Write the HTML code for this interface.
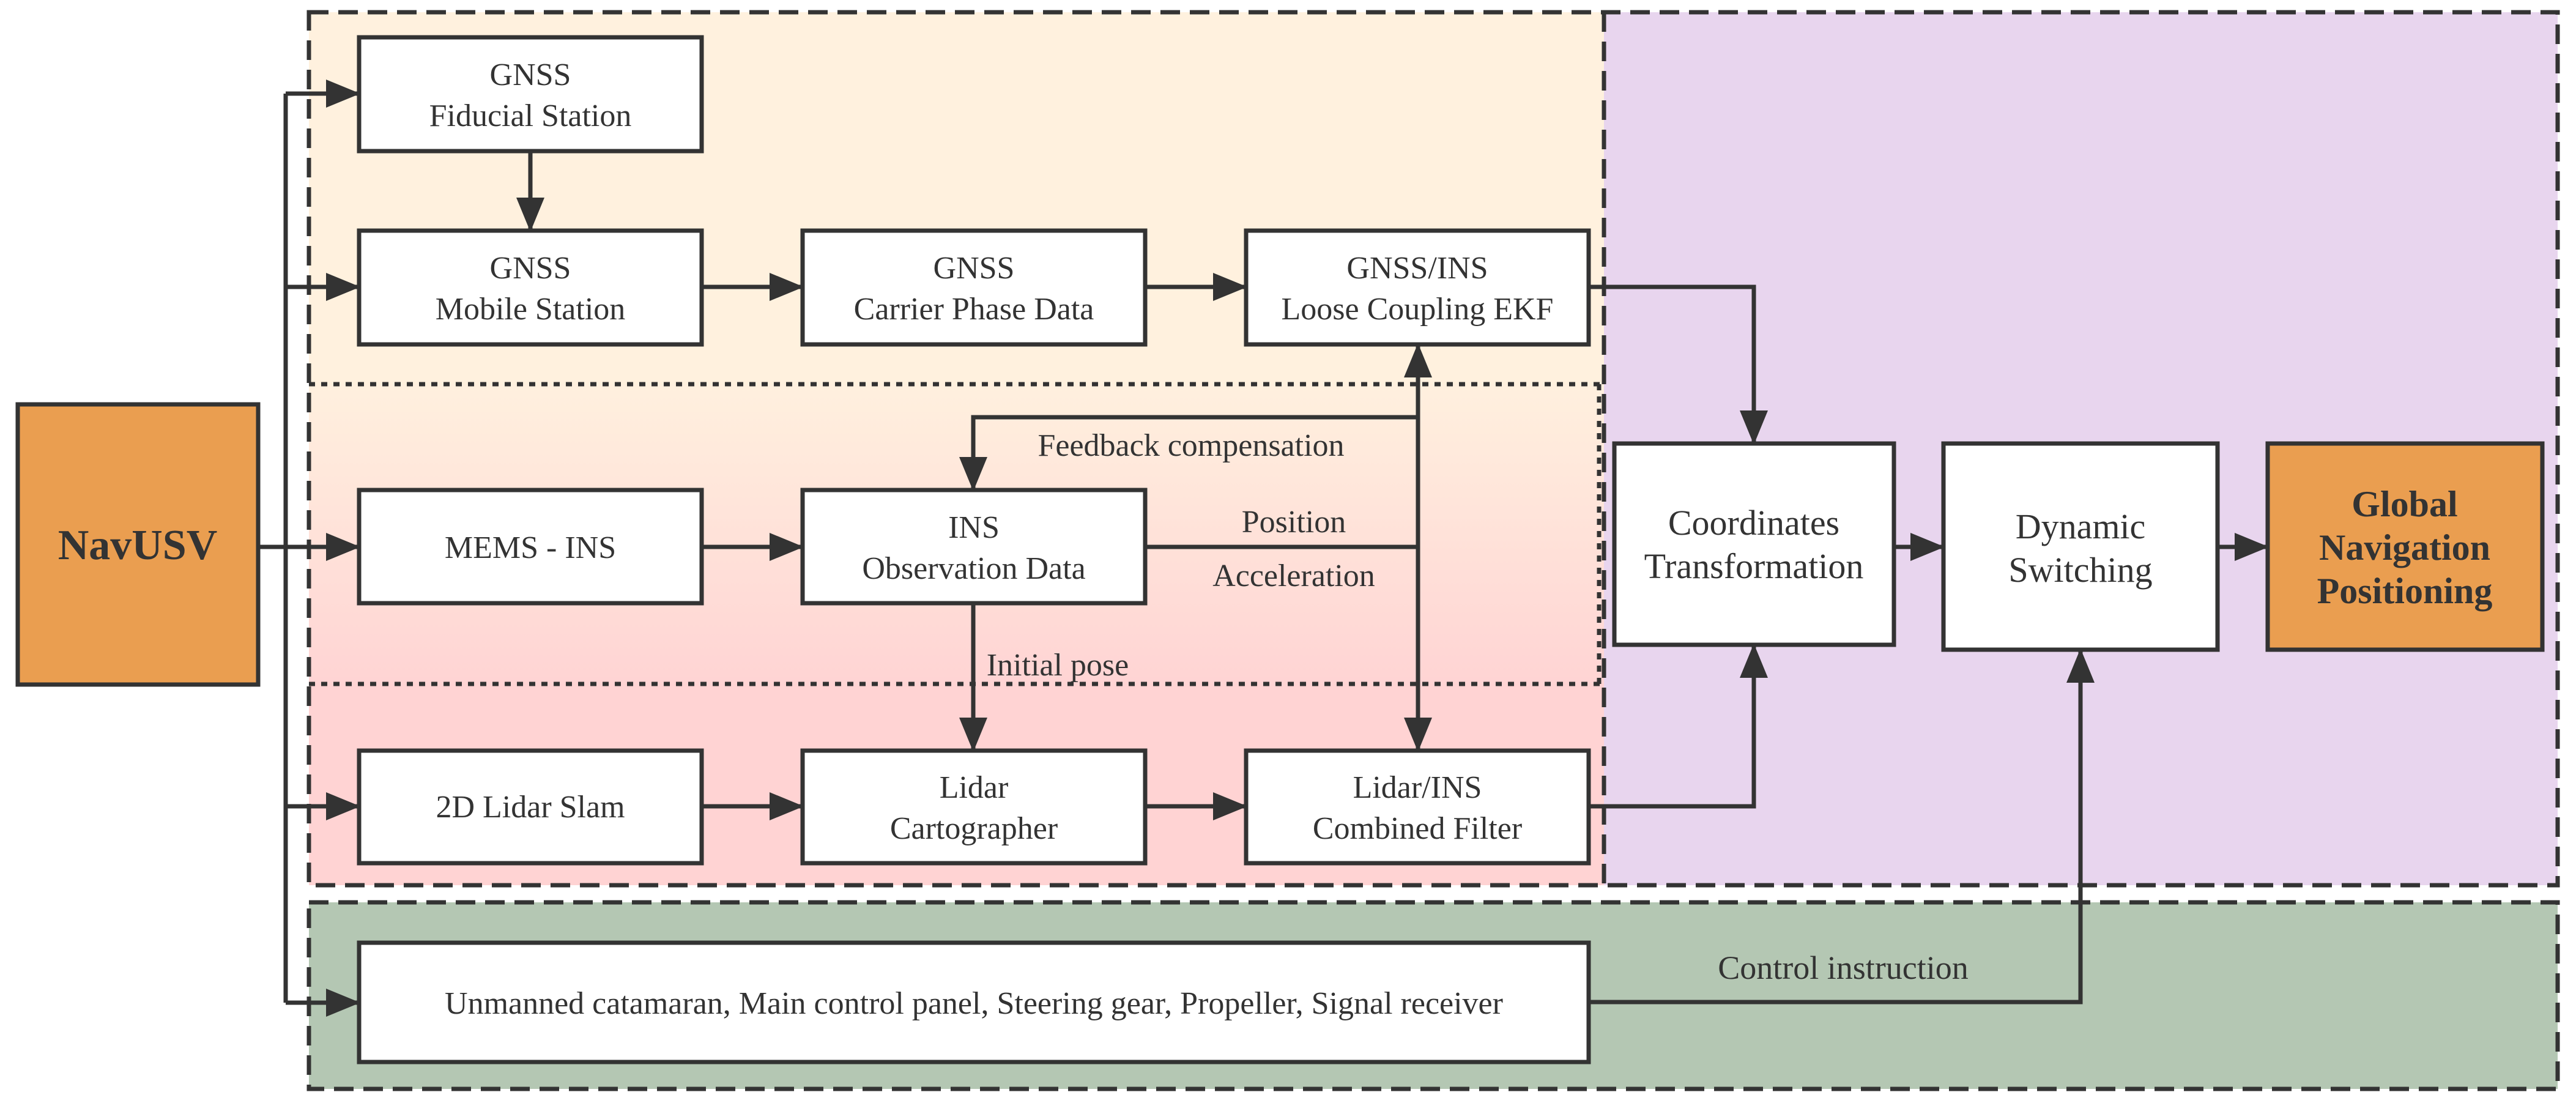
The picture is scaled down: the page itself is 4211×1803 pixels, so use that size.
<!DOCTYPE html>
<html><head><meta charset="utf-8"><style>html,body{margin:0;padding:0;background:#fff}svg{display:block}svg text{font-family:"Liberation Serif","Times New Roman","DejaVu Serif",serif}</style></head>
<body>
<svg width="4211" height="1803" viewBox="0 0 4211 1803" xmlns="http://www.w3.org/2000/svg">
<defs>
<linearGradient id="mid" x1="0" y1="0" x2="0" y2="1">
<stop offset="0" stop-color="#FFF0DE"/><stop offset="1" stop-color="#FFD4D4"/>
</linearGradient>
<marker id="a" markerUnits="userSpaceOnUse" markerWidth="56" markerHeight="46" refX="52" refY="23" orient="auto">
<path d="M0,0 L56,23 L0,46 Z" fill="#333"/>
</marker>
</defs>
<rect x="505" y="20" width="2117" height="608" fill="#FFF1DE"/>
<rect x="505" y="628" width="2117" height="490" fill="url(#mid)"/>
<rect x="505" y="1118" width="2117" height="329" fill="#FFD3D3"/>
<rect x="2622" y="20" width="1559" height="1427" fill="#E8D5EE"/>
<rect x="505" y="1475" width="3676" height="305" fill="#B4C7B3"/>
<g fill="none" stroke="#333" stroke-width="7" stroke-dasharray="32,16">
<rect x="505" y="20" width="3676" height="1427"/>
<line x1="2622" y1="20" x2="2622" y2="1447"/>
<rect x="505" y="1475" width="3676" height="305"/>
</g>
<g stroke="#333" stroke-width="7" stroke-dasharray="10,10">
<line x1="505" y1="628" x2="2618" y2="628"/>
<line x1="505" y1="1118" x2="2618" y2="1118"/>
<line x1="2614" y1="628" x2="2614" y2="1118"/>
</g>
<g fill="none" stroke="#333" stroke-width="7">
<path d="M422,894 H467"/>
<path d="M467,153 V1639"/>
<path d="M467,153 H585" marker-end="url(#a)"/>
<path d="M467,469 H585" marker-end="url(#a)"/>
<path d="M422,894 H585" marker-end="url(#a)"/>
<path d="M467,1318 H585" marker-end="url(#a)"/>
<path d="M467,1639 H585" marker-end="url(#a)"/>
<path d="M867,247 V375" marker-end="url(#a)"/>
<path d="M1147,469 H1310" marker-end="url(#a)"/>
<path d="M1872,469 H2035" marker-end="url(#a)"/>
<path d="M1147,894 H1310" marker-end="url(#a)"/>
<path d="M1147,1318 H1310" marker-end="url(#a)"/>
<path d="M1872,1318 H2035" marker-end="url(#a)"/>
<path d="M2318,894 V565" marker-end="url(#a)"/>
<path d="M2318,894 V1225" marker-end="url(#a)"/>
<path d="M1872,894 H2318"/>
<path d="M2318,682 H1591 V799" marker-end="url(#a)"/>
<path d="M1591,986 V1225" marker-end="url(#a)"/>
<path d="M2597,469 H2867 V723" marker-end="url(#a)"/>
<path d="M2597,1318 H2867 V1056" marker-end="url(#a)"/>
<path d="M3096,894 H3175" marker-end="url(#a)"/>
<path d="M3625,894 H3705" marker-end="url(#a)"/>
<path d="M2597,1638 H3401 V1064" marker-end="url(#a)"/>
</g>
<g stroke="#333" stroke-width="7" fill="#fff">
<rect x="29" y="661" width="393" height="458" fill="#EA9E50"/>
<rect x="587" y="61" width="560" height="186"/>
<rect x="587" y="377" width="560" height="186"/>
<rect x="1312" y="377" width="560" height="186"/>
<rect x="2037" y="377" width="560" height="186"/>
<rect x="587" y="801" width="560" height="185"/>
<rect x="1312" y="801" width="560" height="185"/>
<rect x="587" y="1227" width="560" height="184"/>
<rect x="1312" y="1227" width="560" height="184"/>
<rect x="2037" y="1227" width="560" height="184"/>
<rect x="587" y="1541" width="2010" height="195"/>
<rect x="2639" y="725" width="457" height="329"/>
<rect x="3177" y="725" width="448" height="337"/>
<rect x="3707" y="725" width="449" height="337" fill="#EA9E50"/>
</g>
<g fill="#333" font-size="52" text-anchor="middle">
<text x="225" y="914" font-size="70" font-weight="bold">NavUSV</text>
<text x="867" y="139">GNSS</text><text x="867" y="206">Fiducial Station</text>
<text x="867" y="455">GNSS</text><text x="867" y="522">Mobile Station</text>
<text x="1592" y="455">GNSS</text><text x="1592" y="522">Carrier Phase Data</text>
<text x="2317" y="455">GNSS/INS</text><text x="2317" y="522">Loose Coupling EKF</text>
<text x="867" y="912">MEMS - INS</text>
<text x="1592" y="879">INS</text><text x="1592" y="946">Observation Data</text>
<text x="867" y="1336">2D Lidar Slam</text>
<text x="1592" y="1304">Lidar</text><text x="1592" y="1371">Cartographer</text>
<text x="2317" y="1304">Lidar/INS</text><text x="2317" y="1371">Combined Filter</text>
<text x="1592" y="1657">Unmanned catamaran, Main control panel, Steering gear, Propeller, Signal receiver</text>
<text x="1947" y="745">Feedback compensation</text>
<text x="2115" y="870">Position</text>
<text x="2115" y="958">Acceleration</text>
<text x="1729" y="1104">Initial pose</text>
<text x="3013" y="1600" font-size="54">Control instruction</text>
<text x="2867" y="874" font-size="58">Coordinates</text><text x="2867" y="945" font-size="58">Transformation</text>
<text x="3401" y="880" font-size="58">Dynamic</text><text x="3401" y="951" font-size="58">Switching</text>
<text x="3931" y="844" font-size="60" font-weight="bold">Global</text>
<text x="3931" y="915" font-size="60" font-weight="bold">Navigation</text>
<text x="3931" y="986" font-size="60" font-weight="bold">Positioning</text>
</g>
</svg>
</body></html>
